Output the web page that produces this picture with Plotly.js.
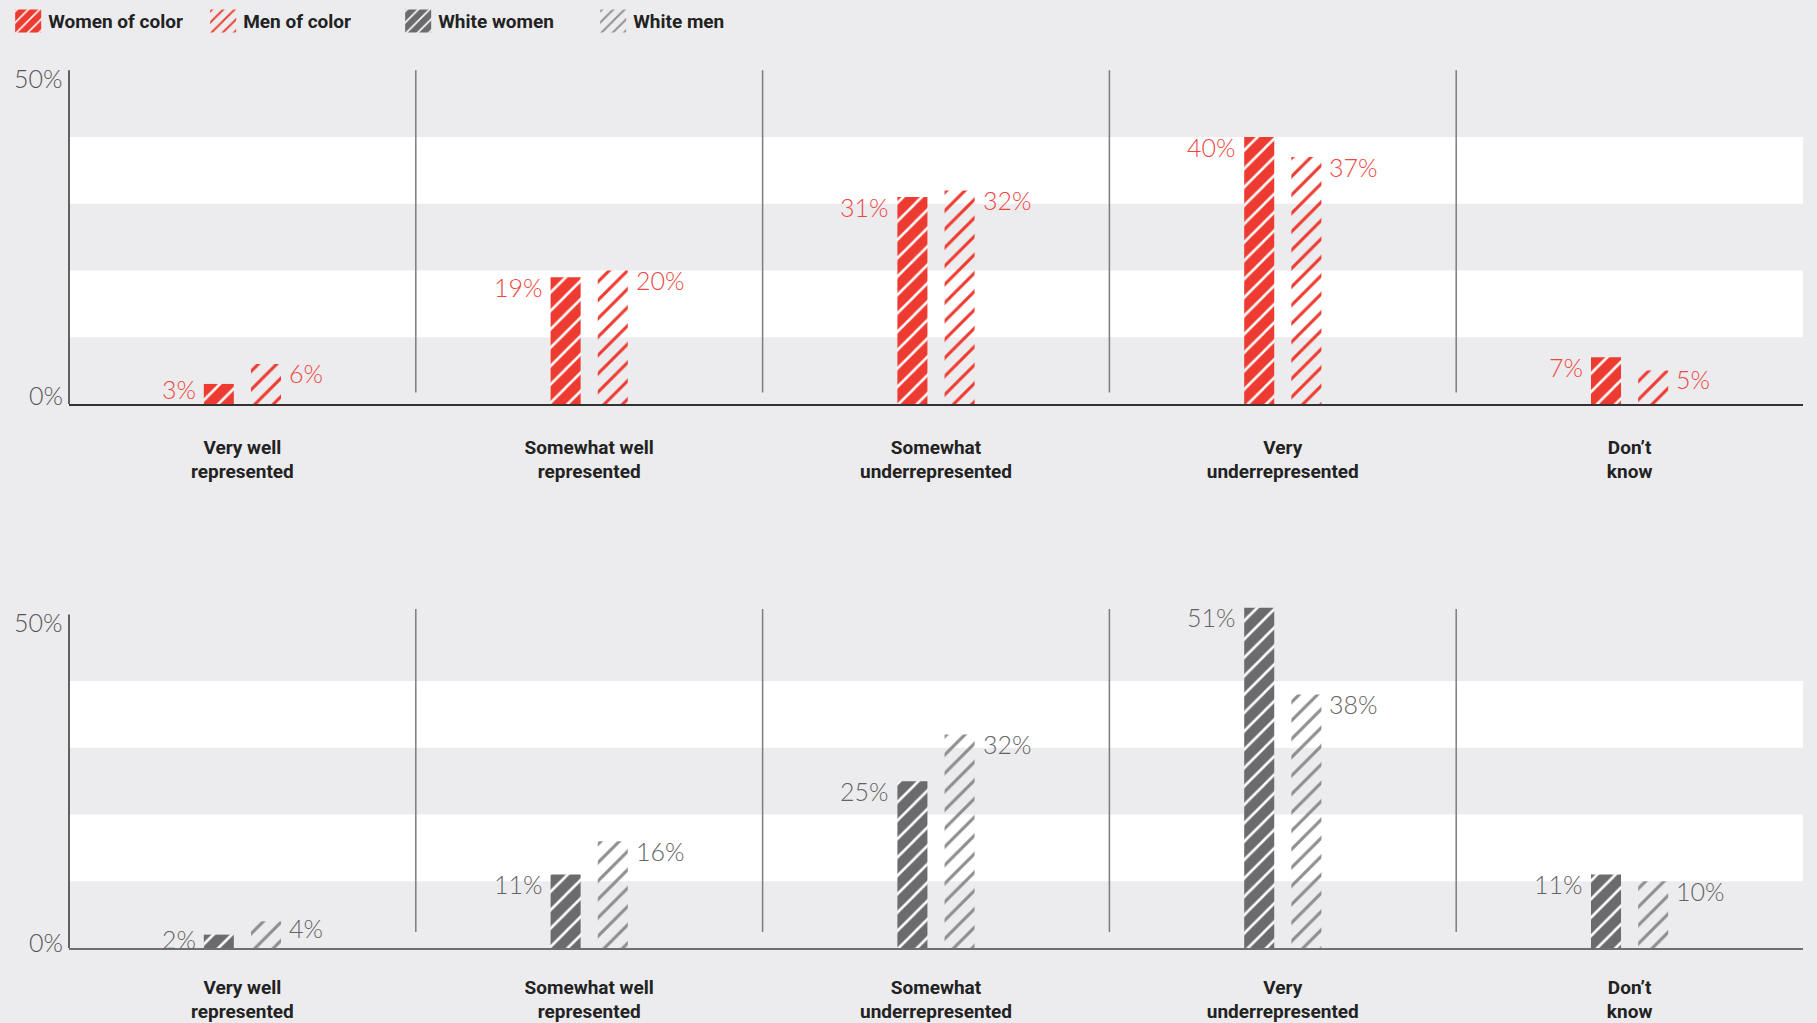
<!DOCTYPE html>
<html><head><meta charset="utf-8">
<script src="https://cdn.plot.ly/plotly-3.0.1.min.js"></script>
<style>html,body{margin:0;padding:0;background:#ececee;}</style>
</head>
<body>
<div id="chart" style="width:1817px;height:1023px;"></div>
<script>
// ---- data ----
const categories = ['Very well<br>represented', 'Somewhat well<br>represented', 'Somewhat<br>underrepresented', 'Very<br>underrepresented', 'Don’t<br>know'];
const seriesNames = ['Women of color', 'Men of color', 'White women', 'White men'];
const womenOfColor = [3, 19, 31, 40, 7];
const menOfColor = [6, 20, 32, 37, 5];
const whiteWomen = [2, 11, 25, 51, 11];
const whiteMen = [4, 16, 32, 38, 10];
const yTickVals = [0, 50];
const yTickText = ['0%', '50%'];
const whiteBands = [[10, 20], [30, 40]];

// ---- styling ----
const RED = '#ee3b31', RED_TXT = '#ee4741', DARK = '#6b6b6d', LIGHTG = '#8e8e8e', GRAY_TXT = '#636363';
const BG = '#ececee';
const BW = 0.0866, OFF = 0.068;
const idx = categories.map((c, i) => i);

function barTrace(name, vals, side, xa, ya, fill, fg, bg) {
  return {
    type: 'bar', name: name, x: idx, y: vals, xaxis: xa, yaxis: ya,
    width: BW, offset: side < 0 ? -OFF - BW / 2 : OFF - BW / 2,
    marker: { color: fill, line: { width: 0 },
      pattern: { shape: '/', fgcolor: fg, bgcolor: bg, size: 13, solidity: side < 0 ? 0.2 : 0.24, fillmode: 'replace' } },
    hoverinfo: 'skip'
  };
}

const data = [
  barTrace(seriesNames[0], womenOfColor, -1, 'x', 'y', RED, 'white', RED),
  barTrace(seriesNames[1], menOfColor, 1, 'x', 'y', 'rgba(0,0,0,0)', RED, 'rgba(0,0,0,0)'),
  barTrace(seriesNames[2], whiteWomen, -1, 'x2', 'y2', DARK, 'white', DARK),
  barTrace(seriesNames[3], whiteMen, 1, 'x2', 'y2', 'rgba(0,0,0,0)', LIGHTG, 'rgba(0,0,0,0)')
];

const shapes = [];
const annotations = [];
const panels = [
  { xa: 'x', ya: 'y', base: '#333333', s: [womenOfColor, menOfColor], col: RED_TXT, divTop: 50, divBot: 1.7, zeroShift: 9 },
  { xa: 'x2', ya: 'y2', base: '#6f6f6f', s: [whiteWomen, whiteMen], col: GRAY_TXT, divTop: 50.8, divBot: 2.4, zeroShift: 6 }
];
panels.forEach(p => {
  whiteBands.forEach(b => shapes.push({ type: 'rect', xref: p.xa + ' domain', yref: p.ya, x0: 0, x1: 1, y0: b[0], y1: b[1],
    fillcolor: '#ffffff', line: { width: 0 }, layer: 'below' }));
  shapes.push({ type: 'line', xref: p.xa + ' domain', yref: p.ya, x0: 0, x1: 0, y0: 0, y1: 50, line: { color: '#333333', width: 1.5 } });
  for (let i = 0; i < categories.length - 1; i++) {
    shapes.push({ type: 'line', xref: p.xa, yref: p.ya, x0: i + 0.5, x1: i + 0.5, y0: p.divBot, y1: p.divTop, line: { color: '#7c7c7c', width: 1.5 } });
  }
  yTickVals.forEach((v, k) => annotations.push({ xref: p.xa + ' domain', yref: p.ya, x: 0, y: v, xanchor: 'right', yanchor: 'middle',
    xshift: -4, yshift: v === 0 ? p.zeroShift : -8, text: yTickText[k], showarrow: false,
    font: { family: 'Lato, sans-serif', weight: 300, size: 25, color: '#555555' } }));
  p.s.forEach((vals, si) => vals.forEach((v, i) => annotations.push({
    xref: p.xa, yref: p.ya, x: si === 0 ? i - OFF - BW / 2 : i + OFF + BW / 2, y: v,
    xanchor: si === 0 ? 'right' : 'left', yanchor: 'middle', xshift: si === 0 ? -6 : 6, yshift: -Math.min(9.5, 1.5 * v + 1),
    text: v + '%', showarrow: false, font: { family: 'Lato, sans-serif', weight: 300, size: 25, color: p.col }
  })));
});

const xaxisBase = {
  range: [-0.5, 4.5], tickvals: idx, ticktext: categories, showline: true, linewidth: 1.5,
  ticks: 'outside', tickcolor: 'rgba(0,0,0,0)', zeroline: false, showgrid: false, fixedrange: true,
  tickfont: { family: 'Roboto, sans-serif', weight: 700, size: 19, color: '#222222' }
};
const yaxisBase = { range: [0, 52], showgrid: false, zeroline: false, showticklabels: false, showline: false, fixedrange: true };

const layout = {
  width: 1817, height: 1023,
  margin: { l: 69, r: 14, t: 57, b: 75 },
  paper_bgcolor: BG, plot_bgcolor: BG,
  barmode: 'overlay',
  showlegend: true,
  legend: { orientation: 'h', xref: 'container', yref: 'container', x: 0.0045, y: 0.998, xanchor: 'left', yanchor: 'top',
    entrywidth: 150, entrywidthmode: 'pixels',
    font: { family: 'Roboto, sans-serif', weight: 700, size: 19, color: '#222222' }, bgcolor: 'rgba(0,0,0,0)',
    itemclick: false, itemdoubleclick: false, traceorder: 'normal' },
  xaxis: Object.assign({}, xaxisBase, { anchor: 'y', linecolor: panels[0].base, ticklen: 25 }),
  yaxis: Object.assign({}, yaxisBase, { domain: [0.6106, 1], anchor: 'x' }),
  xaxis2: Object.assign({}, xaxisBase, { anchor: 'y2', linecolor: panels[1].base, ticklen: 21 }),
  yaxis2: Object.assign({}, yaxisBase, { domain: [0, 0.3894], anchor: 'x2' }),
  shapes: shapes,
  annotations: annotations
};

Plotly.newPlot('chart', data, layout, { displayModeBar: false }).then(gd => {
  gd.querySelectorAll('.legend .legendpoints path').forEach(p => p.setAttribute('d', 'M13,11.5H-13V-11.5H13Z'));
});
</script>
</body></html>
